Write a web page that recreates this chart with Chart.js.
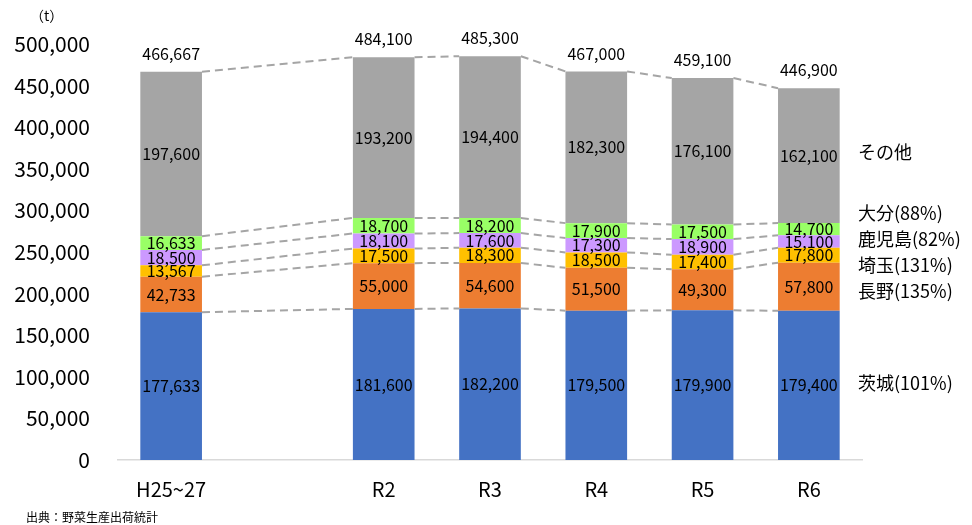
<!DOCTYPE html>
<html>
<head>
<meta charset="utf-8">
<script src="https://cdn.jsdelivr.net/npm/chart.js@4"></script>
<style>
  body { margin: 0; background: #fff; }
  #wrap { width: 972px; height: 525px; position: relative; }
</style>
</head>
<body>
<div id="wrap"><canvas id="chart" width="972" height="525"></canvas></div>
<script>
const years = ['H25~27', '', 'R2', 'R3', 'R4', 'R5', 'R6'];
const ibaraki  = [177633, null, 181600, 182200, 179500, 179900, 179400];
const nagano   = [42733, null, 55000, 54600, 51500, 49300, 57800];
const saitama  = [13567, null, 17500, 18300, 18500, 17400, 17800];
const kagoshima= [18500, null, 18100, 17600, 17300, 18900, 15100];
const oita     = [16633, null, 18700, 18200, 17900, 17500, 14700];
const others   = [197600, null, 193200, 194400, 182300, 176100, 162100];
const totals   = [466667, null, 484100, 485300, 467000, 459100, 446900];
const sideLabels = ['その他', '大分(88%)', '鹿児島(82%)', '埼玉(131%)', '長野(135%)', '茨城(101%)'];

const FONT = '"Noto Sans CJK JP", "Noto Sans", sans-serif';
const fmt = v => v.toLocaleString('en-US');

const series = [
  { label: '茨城', data: ibaraki, backgroundColor: '#4472C4' },
  { label: '長野', data: nagano, backgroundColor: '#ED7D31' },
  { label: '埼玉', data: saitama, backgroundColor: '#FFC000' },
  { label: '鹿児島', data: kagoshima, backgroundColor: '#CC99FF' },
  { label: '大分', data: oita, backgroundColor: '#99FF66' },
  { label: 'その他', data: others, backgroundColor: '#A5A5A5' }
];

// dashed connectors, segment values, totals, side labels
const extras = {
  id: 'extras',
  afterDatasetsDraw(chart) {
    const ctx = chart.ctx;
    const y = chart.scales.y;
    const metas = chart.data.datasets.map((d, i) => chart.getDatasetMeta(i));
    const idx = years.map((c, i) => i).filter(i => totals[i] != null);

    ctx.save();
    ctx.strokeStyle = '#A5A5A5';
    ctx.lineWidth = 2;
    ctx.setLineDash([8, 5]);
    for (let k = 0; k < idx.length - 1; k++) {
      const a = idx[k], b = idx[k + 1];
      metas.forEach(m => {
        const ea = m.data[a], eb = m.data[b];
        ctx.beginPath();
        ctx.moveTo(ea.x + ea.width / 2, ea.y);
        ctx.lineTo(eb.x - eb.width / 2, eb.y);
        ctx.stroke();
      });
    }
    ctx.setLineDash([]);

    ctx.fillStyle = '#000';
    ctx.textAlign = 'center';
    ctx.textBaseline = 'middle';
    ctx.font = '16px ' + FONT;
    metas.forEach((m, di) => {
      idx.forEach(i => {
        const el = m.data[i];
        const v = chart.data.datasets[di].data[i];
        ctx.fillText(fmt(v), el.x, (el.y + el.base) / 2);
      });
    });
    idx.forEach(i => {
      const el = metas[metas.length - 1].data[i];
      ctx.fillText(fmt(totals[i]), el.x, y.getPixelForValue(totals[i]) - 18);
    });

    ctx.textAlign = 'left';
    ctx.font = '18px ' + FONT;
    const sy = [152, 213, 239, 265, 291, 383];
    sideLabels.forEach((t, i) => ctx.fillText(t, 858, sy[i]));

    ctx.font = '14px ' + FONT;
    ctx.fillText('（t）', 30, 16);
    ctx.font = '12px ' + FONT;
    ctx.fillText('出典：野菜生産出荷統計', 26, 517);
    ctx.restore();
  }
};

new Chart(document.getElementById('chart'), {
  type: 'bar',
  data: { labels: years, datasets: series },
  options: {
    responsive: false,
    animation: false,
    layout: { padding: { top: 44, right: 110, left: 0, bottom: 0 } },
    datasets: { bar: { categoryPercentage: 1, barPercentage: 0.58 } },
    plugins: { legend: { display: false }, tooltip: { enabled: false } },
    scales: {
      x: {
        stacked: true,
        grid: { display: false, drawTicks: false },
        border: { color: '#D9D9D9', width: 1.5 },
        ticks: { color: '#000', font: { family: FONT, size: 20 }, padding: 17 },
        afterFit: s => { s.height = 65; }
      },
      y: {
        stacked: true,
        min: 0, max: 500000,
        grid: { display: false, drawTicks: false },
        border: { display: false },
        ticks: { stepSize: 50000, color: '#000', font: { family: FONT, size: 21 }, padding: 28,
                 callback: v => fmt(v) },
        afterFit: s => { s.width = 118; }
      }
    }
  },
  plugins: [extras]
});
</script>
</body>
</html>
